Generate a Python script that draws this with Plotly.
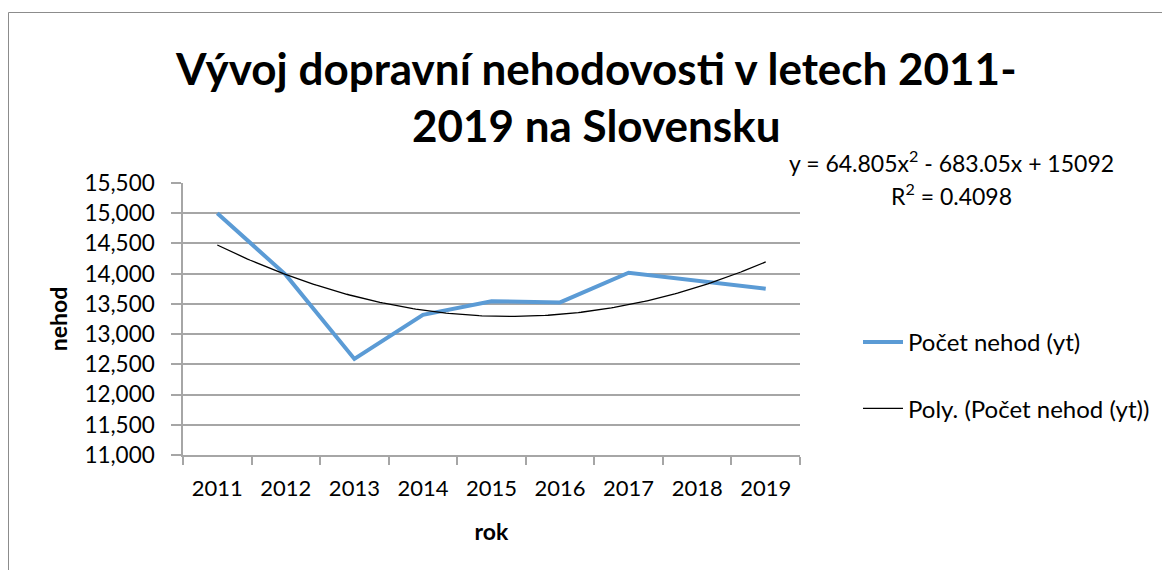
import numpy as np
import plotly.graph_objects as go

# ---- data ----
years = [2011, 2012, 2013, 2014, 2015, 2016, 2017, 2018, 2019]
accidents = [15000, 13980, 12590, 13320, 13545, 13525, 14015, 13890, 13750]
poly_coef = [64.805, -683.05, 15092]          # displayed trendline y = a x^2 + b x + c
r_squared = 0.4098
y_ticks = [11000, 11500, 12000, 12500, 13000, 13500, 14000, 14500, 15000, 15500]

series_name = "Počet nehod (yt)"
trend_name = "Poly. (Počet nehod (yt))"
title_line1 = "Vývoj dopravní nehodovosti v letech 2011-"
title_line2 = "2019 na Slovensku"

# trendline from the displayed equation (x = 1..n)
x_idx = np.linspace(1, len(years), 200)
trend_y = np.polyval(poly_coef, x_idx)
trend_x = x_idx + years[0] - 1

FONT = "Lato"
GRID = "#a6a6a6"

# plot area in screen pixels (page has an 8px body margin)
OFF = 8
L, R, T, B = 183, 800, 183, 455
W, H = 1170 - OFF, 570 - OFF
def px(x):
    return (x - L) / (R - L)
def py(y):
    return (B - y) / (B - T)

fig = go.Figure()
fig.add_trace(go.Scatter(
    x=years, y=accidents, mode="lines", name=series_name,
    line=dict(color="#5b9bd5", width=4), legendgroup="a"))
fig.add_trace(go.Scatter(
    x=trend_x, y=trend_y, mode="lines", name=trend_name,
    line=dict(color="black", width=1.3), legendgroup="b"))

fig.update_layout(
    width=W, height=H,
    margin=dict(l=L - OFF, r=W - (R - OFF), t=T - OFF, b=H - (B - OFF)),
    paper_bgcolor="white", plot_bgcolor="white",
    font=dict(family=FONT, size=22, color="black"),
    showlegend=True,
    legend=dict(x=px(858), y=py(320), xanchor="left", yanchor="top",
                font=dict(size=24, family=FONT), tracegroupgap=32,
                bgcolor="rgba(0,0,0,0)", itemwidth=40),
    xaxis=dict(
        range=[years[0] - 0.5, years[-1] + 0.5],
        tickmode="array", tickvals=years, ticktext=[str(y) for y in years],
        ticks="outside", ticklen=8, tickcolor="rgba(0,0,0,0)",
        showgrid=False, zeroline=False,
        showline=True, linecolor=GRID, linewidth=1.5,
        minor=dict(tickmode="linear", tick0=years[0] - 0.5, dtick=1,
                   ticks="outside", ticklen=8, tickcolor=GRID, tickwidth=1.5,
                   showgrid=False),
        ticklabelstandoff=5,
        tickfont=dict(size=22, family=FONT),
        title=dict(text="<b>rok</b>", font=dict(size=23, family=FONT), standoff=24),
    ),
    yaxis=dict(
        range=[y_ticks[0], y_ticks[-1]],
        tickmode="array", tickvals=y_ticks,
        tickformat=",d",
        ticks="outside", ticklen=10, tickcolor=GRID, tickwidth=1.5,
        showgrid=True, gridcolor=GRID, gridwidth=1.5,
        zeroline=False,
        showline=True, linecolor=GRID, linewidth=1.5,
        ticklabelstandoff=12,
        tickfont=dict(size=22.5, family=FONT),
        title=dict(text="<b>nehod</b>", font=dict(size=23, family=FONT), standoff=10),
    ),
    annotations=[
        dict(text="<b>" + title_line1 + "</b>", x=px(596), y=py(68), xref="paper", yref="paper",
             showarrow=False, xanchor="center", yanchor="middle",
             font=dict(size=44, family=FONT)),
        dict(text="<b>" + title_line2 + "</b>", x=px(596), y=py(125), xref="paper", yref="paper",
             showarrow=False, xanchor="center", yanchor="middle",
             font=dict(size=44, family=FONT)),
        dict(text="y = %sx<sup>2</sup> - %sx + %s" % (
                 poly_coef[0], -poly_coef[1], int(poly_coef[2])),
             x=px(952), y=py(161), xref="paper", yref="paper",
             showarrow=False, xanchor="center", yanchor="middle",
             font=dict(size=23, family=FONT)),
        dict(text="R<sup>2</sup> = %s" % r_squared,
             x=px(952), y=py(194), xref="paper", yref="paper",
             showarrow=False, xanchor="center", yanchor="middle",
             font=dict(size=23, family=FONT)),
    ],
    shapes=[
        dict(type="rect", xref="paper", yref="paper",
             x0=px(8.5), y0=py(620), x1=px(1220), y1=py(12.5),
             line=dict(color="#8c8c8c", width=1), layer="below"),
    ],
)

fig.write_html("out.html")
